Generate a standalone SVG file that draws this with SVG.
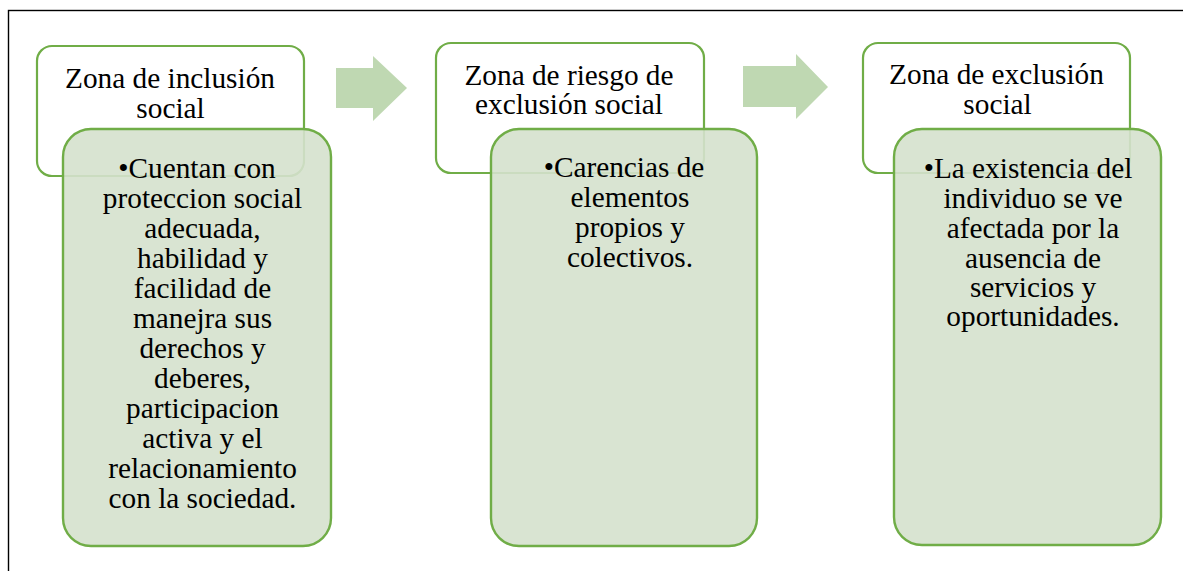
<svg xmlns="http://www.w3.org/2000/svg" width="1183" height="571" viewBox="0 0 1183 571">
<style>
.hdr{fill:#ffffff;stroke:#70ad47;stroke-width:2.2}
.body{fill:#d5e1cd;fill-opacity:0.9;stroke:#70ad47;stroke-width:2.4}
.arrow{fill:#bfd8b2}
.t{font-family:'Liberation Serif',serif;font-size:29.3px;fill:#000;text-anchor:middle}
</style>
<rect width="1183" height="571" fill="#ffffff"/>
<rect x="8.5" y="10.5" width="1200" height="600" fill="none" stroke="#000" stroke-width="1.4"/>
<g id="connectors">
<polygon class="arrow" points="336,68 373,68 373,56 407,88 373,121 373,108 336,108"/>
<polygon class="arrow" points="743,66 796,66 796,54 828,87 796,119 796,107 743,107"/>
</g>
<g id="node1" class="t" font-family="Liberation Serif, serif">
<rect class="hdr" x="37" y="46" width="267" height="130" rx="15"/>
<text x="170" y="88">Zona de inclusión</text>
<text x="170.5" y="118">social</text>
</g>
<g id="node1-detail" class="t" font-family="Liberation Serif, serif">
<rect class="body" x="63" y="129" width="268" height="417" rx="28"/>
<text x="197" y="178">•Cuentan con</text>
<text x="202.5" y="208">proteccion social</text>
<text x="202.5" y="238">adecuada,</text>
<text x="202.5" y="268">habilidad y</text>
<text x="202.5" y="298">facilidad de</text>
<text x="202.5" y="328">manejra sus</text>
<text x="202.5" y="358">derechos y</text>
<text x="202.5" y="388">deberes,</text>
<text x="202.5" y="418">participacion</text>
<text x="202.5" y="448">activa y el</text>
<text x="202.5" y="478">relacionamiento</text>
<text x="202.5" y="508">con la sociedad.</text>
</g>
<g id="node2" class="t" font-family="Liberation Serif, serif">
<rect class="hdr" x="436" y="43" width="268" height="130" rx="15"/>
<text x="569" y="85">Zona de riesgo de</text>
<text x="569" y="114">exclusión social</text>
</g>
<g id="node2-detail" class="t" font-family="Liberation Serif, serif">
<rect class="body" x="491" y="129" width="266" height="417" rx="28"/>
<text x="624" y="177">•Carencias de</text>
<text x="630" y="207">elementos</text>
<text x="630" y="237">propios y</text>
<text x="630" y="267">colectivos.</text>
</g>
<g id="node3" class="t" font-family="Liberation Serif, serif">
<rect class="hdr" x="863" y="43" width="267" height="130" rx="15"/>
<text x="996.5" y="84">Zona de exclusión</text>
<text x="997.5" y="114">social</text>
</g>
<g id="node3-detail" class="t" font-family="Liberation Serif, serif">
<rect class="body" x="894" y="129" width="267" height="416" rx="28"/>
<text x="1028" y="178">•La existencia del</text>
<text x="1033" y="208">individuo se ve</text>
<text x="1033" y="238">afectada por la</text>
<text x="1033" y="268">ausencia de</text>
<text x="1033" y="297">servicios y</text>
<text x="1033" y="326">oportunidades.</text>
</g>
</svg>
